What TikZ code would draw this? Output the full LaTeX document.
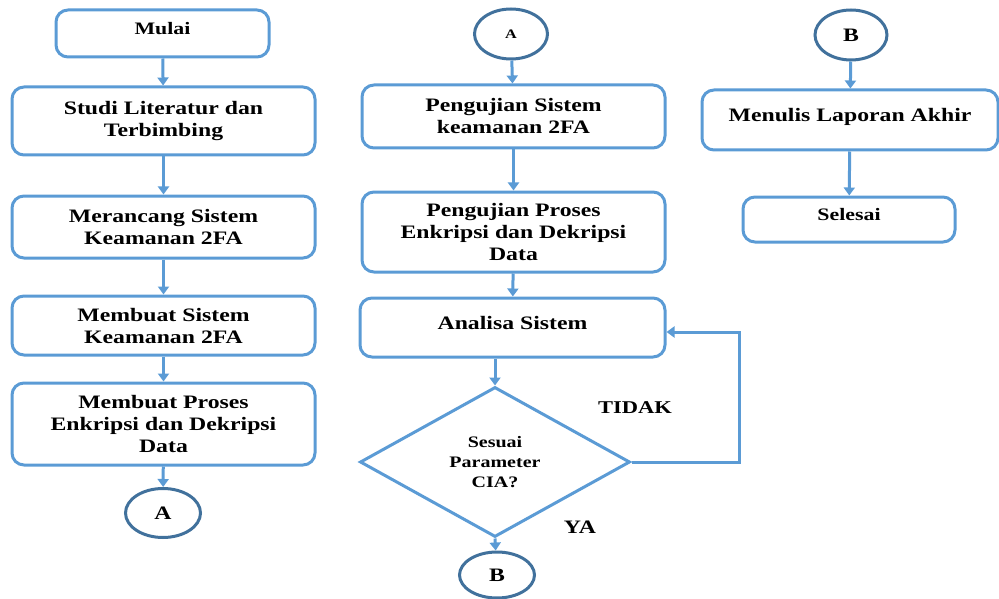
\documentclass[tikz,border=0pt]{standalone}
\usepackage{fontspec}
\setmainfont[FakeStretch=1.25]{Liberation Serif}
\usetikzlibrary{shapes.geometric, arrows.meta}
\definecolor{boxblue}{HTML}{5B9BD5}
\definecolor{ringblue}{HTML}{41719C}
\newcommand{\bigtxt}{\bfseries\fontsize{19}{22}\selectfont}
\newcommand{\midtxt}{\bfseries\fontsize{17.5}{20}\selectfont}
\newcommand{\smalltxt}{\bfseries\fontsize{16}{20}\selectfont}

\begin{document}
\begin{tikzpicture}[x=1pt, y=-1pt,
	proc/.style={draw=boxblue, line width=3pt, rounded corners=12pt, align=center, inner sep=0pt, font=\bigtxt},
	conn/.style={draw=ringblue, line width=3pt, ellipse, inner sep=0pt, font=\bigtxt},
	flow/.style={draw=boxblue, line width=3pt, -{Triangle[width=11pt, length=8pt]}}]
	\useasboundingbox (0,0) rectangle (999,599);

	% first column
	\node[proc, minimum width=213pt, minimum height=47pt, font=\midtxt, text depth=11pt] (mulai) at (162.5,33.5) {Mulai};
	\node[proc, minimum width=303pt, minimum height=68pt] (studi) at (163.5,121) {Studi Literatur dan\\Terbimbing};
	\node[proc, minimum width=303pt, minimum height=62pt] (rancang) at (163.5,227) {Merancang Sistem\\Keamanan 2FA};
	\node[proc, minimum width=303pt, minimum height=59pt] (buatsis) at (163.5,325.5) {Membuat Sistem\\Keamanan 2FA};
	\node[proc, minimum width=303pt, minimum height=82pt] (buatpro) at (163.5,424) {Membuat Proses\\Enkripsi dan Dekripsi\\Data};
	\node[conn, minimum width=75pt, minimum height=49pt] (conA1) at (163,513) {A};
	\draw[flow] (mulai) -- (studi);
	\draw[flow] (studi) -- (rancang);
	\draw[flow] (rancang) -- (buatsis);
	\draw[flow] (buatsis) -- (buatpro);
	\draw[flow] (buatpro) -- (conA1);

	% second column
	\node[conn, minimum width=73pt, minimum height=50pt, font=\bfseries\fontsize{13}{15}\selectfont] (conA2) at (511,34) {A};
	\node[proc, minimum width=303pt, minimum height=63pt] (ujisis) at (513.5,116.5) {Pengujian Sistem\\keamanan 2FA};
	\node[proc, minimum width=303pt, minimum height=80pt] (ujipro) at (513.5,232) {Pengujian Proses\\Enkripsi dan Dekripsi\\Data};
	\node[proc, minimum width=305pt, minimum height=59pt, text depth=10pt] (analisa) at (512.5,327.5) {Analisa Sistem};
	\node[draw=boxblue, line width=3pt, diamond, aspect=1.8, minimum width=270pt, minimum height=150pt, inner sep=0pt, align=center, font=\smalltxt] (cek) at (495,462) {Sesuai\\Parameter\\CIA?};
	\node[conn, minimum width=75pt, minimum height=46pt] (conB1) at (497,575) {B};
	\node[font=\bfseries\fontsize{18}{20}\selectfont] (tidak) at (635,408) {TIDAK};
	\node[font=\bigtxt] (ya) at (580,527) {YA};
	\draw[flow] (conA2) -- (ujisis);
	\draw[flow] (ujisis) -- (ujipro);
	\draw[flow] (ujipro) -- (analisa);
	\draw[flow] (analisa.south -| cek.north) -- (cek.north);
	\draw[flow] (cek.south) -- (conB1);
	\draw[flow] (cek.east) -- ++(108,0) |- ([yshift=-4.5pt]analisa.east);

	% third column
	\node[conn, minimum width=72pt, minimum height=50pt] (conB2) at (851,35) {B};
	\node[proc, minimum width=296pt, minimum height=60pt, text depth=10pt] (tulis) at (850,120) {Menulis Laporan Akhir};
	\node[proc, minimum width=212pt, minimum height=45pt, font=\midtxt, text depth=11pt] (selesai) at (849,219.5) {Selesai};
	\draw[flow] (conB2) -- (tulis);
	\draw[flow] (tulis) -- (selesai);
\end{tikzpicture}
\end{document}
